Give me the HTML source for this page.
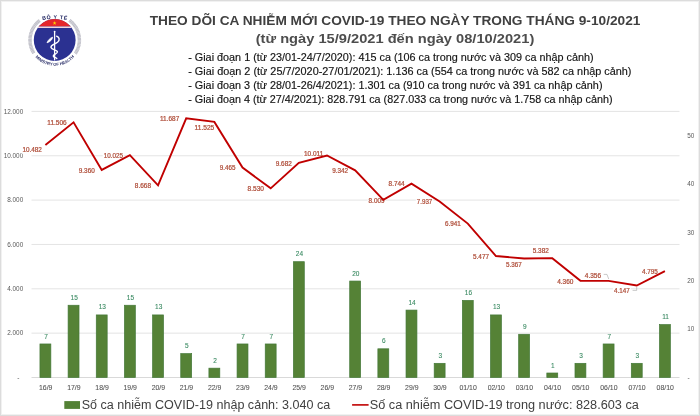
<!DOCTYPE html>
<html><head><meta charset="utf-8">
<style>
html,body{margin:0;padding:0;background:#fff;}
body{width:700px;height:416px;overflow:hidden;position:relative;}
svg{position:absolute;left:0;top:0;display:block;will-change:transform;}
text{font-family:"Liberation Sans",sans-serif;}
</style></head><body>
<svg width="700" height="416" viewBox="0 0 700 416">
<rect x="0" y="0" width="700" height="416" fill="#fff"/>

<rect x="0.5" y="0.5" width="699" height="415" fill="none" stroke="#dcdcdc" stroke-width="1"/>
<rect x="1.5" y="1.5" width="697" height="413" fill="none" stroke="#f1f1f1" stroke-width="1"/>
<line x1="31.5" y1="333.15" x2="679.5" y2="333.15" stroke="#e4e4e4" stroke-width="1"/>
<line x1="31.5" y1="288.80" x2="679.5" y2="288.80" stroke="#e4e4e4" stroke-width="1"/>
<line x1="31.5" y1="244.45" x2="679.5" y2="244.45" stroke="#e4e4e4" stroke-width="1"/>
<line x1="31.5" y1="200.10" x2="679.5" y2="200.10" stroke="#e4e4e4" stroke-width="1"/>
<line x1="31.5" y1="155.75" x2="679.5" y2="155.75" stroke="#e4e4e4" stroke-width="1"/>
<line x1="31.5" y1="111.40" x2="679.5" y2="111.40" stroke="#e4e4e4" stroke-width="1"/>
<line x1="31.5" y1="377.50" x2="679.5" y2="377.50" stroke="#d9d9d9" stroke-width="1"/>
<text x="19.5" y="379.50" font-size="6.5" fill="#595959" text-anchor="end">-</text>
<text x="23.2" y="335.45" font-size="6.4" fill="#595959" text-anchor="end">2.000</text>
<text x="23.2" y="291.10" font-size="6.4" fill="#595959" text-anchor="end">4.000</text>
<text x="23.2" y="246.75" font-size="6.4" fill="#595959" text-anchor="end">6.000</text>
<text x="23.2" y="202.40" font-size="6.4" fill="#595959" text-anchor="end">8.000</text>
<text x="23.2" y="158.05" font-size="6.4" fill="#595959" text-anchor="end">10.000</text>
<text x="23.2" y="113.70" font-size="6.4" fill="#595959" text-anchor="end">12.000</text>
<text x="687.5" y="379.50" font-size="6.5" fill="#595959">-</text>
<text x="687.3" y="331.40" font-size="6.4" fill="#595959">10</text>
<text x="687.3" y="283.00" font-size="6.4" fill="#595959">20</text>
<text x="687.3" y="234.60" font-size="6.4" fill="#595959">30</text>
<text x="687.3" y="186.20" font-size="6.4" fill="#595959">40</text>
<text x="687.3" y="137.80" font-size="6.4" fill="#595959">50</text>
<rect x="39.95" y="343.97" width="10.90" height="33.53" fill="#558236" stroke="#437838" stroke-width="0.7"/>
<text x="46.00" y="338.52" font-size="6.5" fill="#3a8a62" stroke="#3a8a62" stroke-width="0.1" text-anchor="middle">7</text>
<rect x="68.11" y="305.25" width="10.90" height="72.25" fill="#558236" stroke="#437838" stroke-width="0.7"/>
<text x="74.16" y="299.80" font-size="6.5" fill="#3a8a62" stroke="#3a8a62" stroke-width="0.1" text-anchor="middle">15</text>
<rect x="96.27" y="314.93" width="10.90" height="62.57" fill="#558236" stroke="#437838" stroke-width="0.7"/>
<text x="102.32" y="309.48" font-size="6.5" fill="#3a8a62" stroke="#3a8a62" stroke-width="0.1" text-anchor="middle">13</text>
<rect x="124.43" y="305.25" width="10.90" height="72.25" fill="#558236" stroke="#437838" stroke-width="0.7"/>
<text x="130.48" y="299.80" font-size="6.5" fill="#3a8a62" stroke="#3a8a62" stroke-width="0.1" text-anchor="middle">15</text>
<rect x="152.59" y="314.93" width="10.90" height="62.57" fill="#558236" stroke="#437838" stroke-width="0.7"/>
<text x="158.64" y="309.48" font-size="6.5" fill="#3a8a62" stroke="#3a8a62" stroke-width="0.1" text-anchor="middle">13</text>
<rect x="180.75" y="353.65" width="10.90" height="23.85" fill="#558236" stroke="#437838" stroke-width="0.7"/>
<text x="186.80" y="348.20" font-size="6.5" fill="#3a8a62" stroke="#3a8a62" stroke-width="0.1" text-anchor="middle">5</text>
<rect x="208.91" y="368.17" width="10.90" height="9.33" fill="#558236" stroke="#437838" stroke-width="0.7"/>
<text x="214.96" y="362.72" font-size="6.5" fill="#3a8a62" stroke="#3a8a62" stroke-width="0.1" text-anchor="middle">2</text>
<rect x="237.07" y="343.97" width="10.90" height="33.53" fill="#558236" stroke="#437838" stroke-width="0.7"/>
<text x="243.12" y="338.52" font-size="6.5" fill="#3a8a62" stroke="#3a8a62" stroke-width="0.1" text-anchor="middle">7</text>
<rect x="265.23" y="343.97" width="10.90" height="33.53" fill="#558236" stroke="#437838" stroke-width="0.7"/>
<text x="271.28" y="338.52" font-size="6.5" fill="#3a8a62" stroke="#3a8a62" stroke-width="0.1" text-anchor="middle">7</text>
<rect x="293.39" y="261.69" width="10.90" height="115.81" fill="#558236" stroke="#437838" stroke-width="0.7"/>
<text x="299.44" y="256.24" font-size="6.5" fill="#3a8a62" stroke="#3a8a62" stroke-width="0.1" text-anchor="middle">24</text>
<rect x="349.71" y="281.05" width="10.90" height="96.45" fill="#558236" stroke="#437838" stroke-width="0.7"/>
<text x="355.76" y="275.60" font-size="6.5" fill="#3a8a62" stroke="#3a8a62" stroke-width="0.1" text-anchor="middle">20</text>
<rect x="377.87" y="348.81" width="10.90" height="28.69" fill="#558236" stroke="#437838" stroke-width="0.7"/>
<text x="383.92" y="343.36" font-size="6.5" fill="#3a8a62" stroke="#3a8a62" stroke-width="0.1" text-anchor="middle">6</text>
<rect x="406.03" y="310.09" width="10.90" height="67.41" fill="#558236" stroke="#437838" stroke-width="0.7"/>
<text x="412.08" y="304.64" font-size="6.5" fill="#3a8a62" stroke="#3a8a62" stroke-width="0.1" text-anchor="middle">14</text>
<rect x="434.19" y="363.33" width="10.90" height="14.17" fill="#558236" stroke="#437838" stroke-width="0.7"/>
<text x="440.24" y="357.88" font-size="6.5" fill="#3a8a62" stroke="#3a8a62" stroke-width="0.1" text-anchor="middle">3</text>
<rect x="462.35" y="300.41" width="10.90" height="77.09" fill="#558236" stroke="#437838" stroke-width="0.7"/>
<text x="468.40" y="294.96" font-size="6.5" fill="#3a8a62" stroke="#3a8a62" stroke-width="0.1" text-anchor="middle">16</text>
<rect x="490.51" y="314.93" width="10.90" height="62.57" fill="#558236" stroke="#437838" stroke-width="0.7"/>
<text x="496.56" y="309.48" font-size="6.5" fill="#3a8a62" stroke="#3a8a62" stroke-width="0.1" text-anchor="middle">13</text>
<rect x="518.67" y="334.29" width="10.90" height="43.21" fill="#558236" stroke="#437838" stroke-width="0.7"/>
<text x="524.72" y="328.84" font-size="6.5" fill="#3a8a62" stroke="#3a8a62" stroke-width="0.1" text-anchor="middle">9</text>
<rect x="546.83" y="373.01" width="10.90" height="4.49" fill="#558236" stroke="#437838" stroke-width="0.7"/>
<text x="552.88" y="367.56" font-size="6.5" fill="#3a8a62" stroke="#3a8a62" stroke-width="0.1" text-anchor="middle">1</text>
<rect x="574.99" y="363.33" width="10.90" height="14.17" fill="#558236" stroke="#437838" stroke-width="0.7"/>
<text x="581.04" y="357.88" font-size="6.5" fill="#3a8a62" stroke="#3a8a62" stroke-width="0.1" text-anchor="middle">3</text>
<rect x="603.15" y="343.97" width="10.90" height="33.53" fill="#558236" stroke="#437838" stroke-width="0.7"/>
<text x="609.20" y="338.52" font-size="6.5" fill="#3a8a62" stroke="#3a8a62" stroke-width="0.1" text-anchor="middle">7</text>
<rect x="631.31" y="363.33" width="10.90" height="14.17" fill="#558236" stroke="#437838" stroke-width="0.7"/>
<text x="637.36" y="357.88" font-size="6.5" fill="#3a8a62" stroke="#3a8a62" stroke-width="0.1" text-anchor="middle">3</text>
<rect x="659.47" y="324.61" width="10.90" height="52.89" fill="#558236" stroke="#437838" stroke-width="0.7"/>
<text x="665.52" y="319.16" font-size="6.5" fill="#3a8a62" stroke="#3a8a62" stroke-width="0.1" text-anchor="middle">11</text>
<text x="45.70" y="389.90" font-size="6.9" fill="#555" stroke="#555" stroke-width="0.08" text-anchor="middle">16/9</text>
<text x="73.86" y="389.90" font-size="6.9" fill="#555" stroke="#555" stroke-width="0.08" text-anchor="middle">17/9</text>
<text x="102.02" y="389.90" font-size="6.9" fill="#555" stroke="#555" stroke-width="0.08" text-anchor="middle">18/9</text>
<text x="130.18" y="389.90" font-size="6.9" fill="#555" stroke="#555" stroke-width="0.08" text-anchor="middle">19/9</text>
<text x="158.34" y="389.90" font-size="6.9" fill="#555" stroke="#555" stroke-width="0.08" text-anchor="middle">20/9</text>
<text x="186.50" y="389.90" font-size="6.9" fill="#555" stroke="#555" stroke-width="0.08" text-anchor="middle">21/9</text>
<text x="214.66" y="389.90" font-size="6.9" fill="#555" stroke="#555" stroke-width="0.08" text-anchor="middle">22/9</text>
<text x="242.82" y="389.90" font-size="6.9" fill="#555" stroke="#555" stroke-width="0.08" text-anchor="middle">23/9</text>
<text x="270.98" y="389.90" font-size="6.9" fill="#555" stroke="#555" stroke-width="0.08" text-anchor="middle">24/9</text>
<text x="299.14" y="389.90" font-size="6.9" fill="#555" stroke="#555" stroke-width="0.08" text-anchor="middle">25/9</text>
<text x="327.30" y="389.90" font-size="6.9" fill="#555" stroke="#555" stroke-width="0.08" text-anchor="middle">26/9</text>
<text x="355.46" y="389.90" font-size="6.9" fill="#555" stroke="#555" stroke-width="0.08" text-anchor="middle">27/9</text>
<text x="383.62" y="389.90" font-size="6.9" fill="#555" stroke="#555" stroke-width="0.08" text-anchor="middle">28/9</text>
<text x="411.78" y="389.90" font-size="6.9" fill="#555" stroke="#555" stroke-width="0.08" text-anchor="middle">29/9</text>
<text x="439.94" y="389.90" font-size="6.9" fill="#555" stroke="#555" stroke-width="0.08" text-anchor="middle">30/9</text>
<text x="468.10" y="389.90" font-size="6.9" fill="#555" stroke="#555" stroke-width="0.08" text-anchor="middle">01/10</text>
<text x="496.26" y="389.90" font-size="6.9" fill="#555" stroke="#555" stroke-width="0.08" text-anchor="middle">02/10</text>
<text x="524.42" y="389.90" font-size="6.9" fill="#555" stroke="#555" stroke-width="0.08" text-anchor="middle">03/10</text>
<text x="552.58" y="389.90" font-size="6.9" fill="#555" stroke="#555" stroke-width="0.08" text-anchor="middle">04/10</text>
<text x="580.74" y="389.90" font-size="6.9" fill="#555" stroke="#555" stroke-width="0.08" text-anchor="middle">05/10</text>
<text x="608.90" y="389.90" font-size="6.9" fill="#555" stroke="#555" stroke-width="0.08" text-anchor="middle">06/10</text>
<text x="637.06" y="389.90" font-size="6.9" fill="#555" stroke="#555" stroke-width="0.08" text-anchor="middle">07/10</text>
<text x="665.22" y="389.90" font-size="6.9" fill="#555" stroke="#555" stroke-width="0.08" text-anchor="middle">08/10</text>
<rect x="21.40" y="146.50" width="21.40" height="7.2" fill="#fff"/>
<text x="22.40" y="152.30" font-size="6.5" fill="#b04f3b" stroke="#b04f3b" stroke-width="0.24" textLength="19.40" lengthAdjust="spacingAndGlyphs">10.482</text>
<rect x="46.30" y="119.10" width="21.40" height="7.2" fill="#fff"/>
<text x="47.30" y="124.90" font-size="6.5" fill="#b04f3b" stroke="#b04f3b" stroke-width="0.24" textLength="19.40" lengthAdjust="spacingAndGlyphs">11.506</text>
<rect x="77.80" y="166.70" width="18.00" height="7.2" fill="#fff"/>
<text x="78.80" y="172.50" font-size="6.5" fill="#b04f3b" stroke="#b04f3b" stroke-width="0.24" textLength="16.00" lengthAdjust="spacingAndGlyphs">9.360</text>
<rect x="102.70" y="151.90" width="21.20" height="7.2" fill="#fff"/>
<text x="103.70" y="157.70" font-size="6.5" fill="#b04f3b" stroke="#b04f3b" stroke-width="0.24" textLength="19.20" lengthAdjust="spacingAndGlyphs">10.025</text>
<rect x="133.80" y="182.10" width="18.20" height="7.2" fill="#fff"/>
<text x="134.80" y="187.90" font-size="6.5" fill="#b04f3b" stroke="#b04f3b" stroke-width="0.24" textLength="16.20" lengthAdjust="spacingAndGlyphs">8.668</text>
<rect x="159.00" y="114.90" width="21.30" height="7.2" fill="#fff"/>
<text x="160.00" y="120.70" font-size="6.5" fill="#b04f3b" stroke="#b04f3b" stroke-width="0.24" textLength="19.30" lengthAdjust="spacingAndGlyphs">11.687</text>
<rect x="193.60" y="124.10" width="21.70" height="7.2" fill="#fff"/>
<text x="194.60" y="129.90" font-size="6.5" fill="#b04f3b" stroke="#b04f3b" stroke-width="0.24" textLength="19.70" lengthAdjust="spacingAndGlyphs">11.525</text>
<rect x="218.70" y="164.50" width="17.70" height="7.2" fill="#fff"/>
<text x="219.70" y="170.30" font-size="6.5" fill="#b04f3b" stroke="#b04f3b" stroke-width="0.24" textLength="15.70" lengthAdjust="spacingAndGlyphs">9.465</text>
<rect x="246.60" y="185.40" width="18.40" height="7.2" fill="#fff"/>
<text x="247.60" y="191.20" font-size="6.5" fill="#b04f3b" stroke="#b04f3b" stroke-width="0.24" textLength="16.40" lengthAdjust="spacingAndGlyphs">8.530</text>
<rect x="274.80" y="160.00" width="18.00" height="7.2" fill="#fff"/>
<text x="275.80" y="165.80" font-size="6.5" fill="#b04f3b" stroke="#b04f3b" stroke-width="0.24" textLength="16.00" lengthAdjust="spacingAndGlyphs">9.682</text>
<rect x="303.00" y="149.90" width="21.30" height="7.2" fill="#fff"/>
<text x="304.00" y="155.70" font-size="6.5" fill="#b04f3b" stroke="#b04f3b" stroke-width="0.24" textLength="19.30" lengthAdjust="spacingAndGlyphs">10.011</text>
<rect x="331.20" y="167.20" width="18.00" height="7.2" fill="#fff"/>
<text x="332.20" y="173.00" font-size="6.5" fill="#b04f3b" stroke="#b04f3b" stroke-width="0.24" textLength="16.00" lengthAdjust="spacingAndGlyphs">9.342</text>
<rect x="367.60" y="196.70" width="17.90" height="7.2" fill="#fff"/>
<text x="368.60" y="202.50" font-size="6.5" fill="#b04f3b" stroke="#b04f3b" stroke-width="0.24" textLength="15.90" lengthAdjust="spacingAndGlyphs">8.009</text>
<rect x="387.60" y="180.30" width="18.00" height="7.2" fill="#fff"/>
<text x="388.60" y="186.10" font-size="6.5" fill="#b04f3b" stroke="#b04f3b" stroke-width="0.24" textLength="16.00" lengthAdjust="spacingAndGlyphs">8.744</text>
<rect x="415.80" y="197.90" width="17.50" height="7.2" fill="#fff"/>
<text x="416.80" y="203.70" font-size="6.5" fill="#b04f3b" stroke="#b04f3b" stroke-width="0.24" textLength="15.50" lengthAdjust="spacingAndGlyphs">7.937</text>
<rect x="443.90" y="220.50" width="17.80" height="7.2" fill="#fff"/>
<text x="444.90" y="226.30" font-size="6.5" fill="#b04f3b" stroke="#b04f3b" stroke-width="0.24" textLength="15.80" lengthAdjust="spacingAndGlyphs">6.941</text>
<rect x="472.00" y="253.00" width="18.00" height="7.2" fill="#fff"/>
<text x="473.00" y="258.80" font-size="6.5" fill="#b04f3b" stroke="#b04f3b" stroke-width="0.24" textLength="16.00" lengthAdjust="spacingAndGlyphs">5.477</text>
<rect x="504.90" y="261.40" width="17.80" height="7.2" fill="#fff"/>
<text x="505.90" y="267.20" font-size="6.5" fill="#b04f3b" stroke="#b04f3b" stroke-width="0.24" textLength="15.80" lengthAdjust="spacingAndGlyphs">5.367</text>
<rect x="531.80" y="246.90" width="18.00" height="7.2" fill="#fff"/>
<text x="532.80" y="252.70" font-size="6.5" fill="#b04f3b" stroke="#b04f3b" stroke-width="0.24" textLength="16.00" lengthAdjust="spacingAndGlyphs">5.382</text>
<rect x="556.20" y="277.70" width="18.30" height="7.2" fill="#fff"/>
<text x="557.20" y="283.50" font-size="6.5" fill="#b04f3b" stroke="#b04f3b" stroke-width="0.24" textLength="16.30" lengthAdjust="spacingAndGlyphs">4.360</text>
<rect x="583.80" y="271.70" width="18.30" height="7.2" fill="#fff"/>
<text x="584.80" y="277.50" font-size="6.5" fill="#b04f3b" stroke="#b04f3b" stroke-width="0.24" textLength="16.30" lengthAdjust="spacingAndGlyphs">4.356</text>
<rect x="613.10" y="287.60" width="17.70" height="7.2" fill="#fff"/>
<text x="614.10" y="293.40" font-size="6.5" fill="#b04f3b" stroke="#b04f3b" stroke-width="0.24" textLength="15.70" lengthAdjust="spacingAndGlyphs">4.147</text>
<rect x="641.00" y="267.90" width="17.90" height="7.2" fill="#fff"/>
<text x="642.00" y="273.70" font-size="6.5" fill="#b04f3b" stroke="#b04f3b" stroke-width="0.24" textLength="15.90" lengthAdjust="spacingAndGlyphs">4.795</text>
<polyline points="45.40,145.06 73.56,122.35 101.72,169.94 129.88,155.20 158.04,185.29 186.20,118.34 214.36,121.93 242.52,167.61 270.68,188.35 298.84,162.80 327.00,155.51 355.16,170.34 383.32,199.90 411.48,183.60 439.64,201.50 467.80,223.58 495.96,256.05 524.12,258.49 552.28,258.15 580.44,280.82 608.60,280.91 636.76,285.54 664.92,271.17" fill="none" stroke="#c00000" stroke-width="1.9" stroke-linejoin="miter"/>
<polyline points="603.7,274.4 607,274.4 608.7,279" fill="none" stroke="#a6a6a6" stroke-width="0.6"/>
<polyline points="632.6,290.4 636.7,290.4 636.7,287" fill="none" stroke="#a6a6a6" stroke-width="0.6"/>
<text x="149.7" y="24.65" font-size="13.5" font-weight="bold" fill="#404040" textLength="490.7" lengthAdjust="spacingAndGlyphs">THEO DÕI CA NHIỄM MỚI COVID-19 THEO NGÀY TRONG THÁNG 9-10/2021</text>
<text x="255.7" y="43.4" font-size="12.7" font-weight="bold" fill="#4d4d4d" textLength="278.6" lengthAdjust="spacingAndGlyphs">(từ ngày 15/9/2021 đến ngày 08/10/2021)</text>
<text x="188.2" y="61.15" font-size="10.1" fill="#151515" stroke="#151515" stroke-width="0.15" textLength="405.40" lengthAdjust="spacingAndGlyphs">- Giai đoạn 1 (từ 23/01-24/7/2020): 415 ca (106 ca trong nước và 309 ca nhập cảnh)</text>
<text x="188.2" y="75.18" font-size="10.1" fill="#151515" stroke="#151515" stroke-width="0.15" textLength="443.30" lengthAdjust="spacingAndGlyphs">- Giai đoạn 2 (từ 25/7/2020-27/01/2021): 1.136 ca (554 ca trong nước và 582 ca nhập cảnh)</text>
<text x="188.2" y="89.21" font-size="10.1" fill="#151515" stroke="#151515" stroke-width="0.15" textLength="414.30" lengthAdjust="spacingAndGlyphs">- Giai đoạn 3 (từ 28/01-26/4/2021): 1.301 ca (910 ca trong nước và 391 ca nhập cảnh)</text>
<text x="188.2" y="103.24" font-size="10.1" fill="#151515" stroke="#151515" stroke-width="0.15" textLength="424.30" lengthAdjust="spacingAndGlyphs">- Giai đoạn 4 (từ 27/4/2021): 828.791 ca (827.033 ca trong nước và 1.758 ca nhập cảnh)</text>
<rect x="64.3" y="401.1" width="15.7" height="7.8" fill="#538135"/>
<text x="81.7" y="408.9" font-size="12.5" fill="#404040" textLength="248.6" lengthAdjust="spacingAndGlyphs">Số ca nhiễm COVID-19 nhập cảnh: 3.040 ca</text>
<line x1="352.1" y1="404.9" x2="368.6" y2="404.9" stroke="#c00000" stroke-width="1.6"/>
<text x="369.7" y="408.7" font-size="12.5" fill="#404040" textLength="269.2" lengthAdjust="spacingAndGlyphs">Số ca nhiễm COVID-19 trong nước: 828.603 ca</text>
<g id="logo">
<path d="M33.75,53.09 A24.7,24.7 0 0 1 39.84,20.27" fill="none" stroke="#dadae0" stroke-width="3.4"/>
<path d="M33.75,53.09 A24.7,24.7 0 0 1 39.84,20.27" fill="none" stroke="#b0b0ba" stroke-width="3.4" stroke-dasharray="0.5 0.8"/>
<path d="M69.56,20.27 A24.7,24.7 0 0 1 75.42,53.45" fill="none" stroke="#dadae0" stroke-width="3.4"/>
<path d="M69.56,20.27 A24.7,24.7 0 0 1 75.42,53.45" fill="none" stroke="#b0b0ba" stroke-width="3.4" stroke-dasharray="0.5 0.8"/>
<circle cx="54.7" cy="40.0" r="20.9" fill="#2b3191"/>
<path d="M38.66,26.6 A20.9,20.9 0 0 1 70.74,26.6 Z" fill="#e5262b"/>
<path d="M38.66,26.6 L70.74,26.6 L71.74,27.900000000000002 L37.66,27.900000000000002 Z" fill="#f3d6dc"/>
<polygon points="54.60,21.00 55.10,22.41 56.60,22.45 55.41,23.36 55.83,24.80 54.60,23.95 53.37,24.80 53.79,23.36 52.60,22.45 54.10,22.41" fill="#ffd200"/>
<line x1="54.6" y1="31.5" x2="54.6" y2="60.5" stroke="#fff" stroke-width="1.3"/>
<circle cx="54.6" cy="31.6" r="0.9" fill="#fff"/>
<path d="M56.6,36.2 C59.5,37.5 60.2,40 57.5,42.2 C54.5,44.5 50.2,45 51,47.5 C51.8,50 57.6,49.8 57.4,52 C57.2,54 53,54.3 53.3,56 C53.6,57.5 56,57.6 56.8,58.4" fill="none" stroke="#fff" stroke-width="1.4" stroke-linecap="round"/>
<path d="M47.0,42.8 C48.2,40.0 49.8,38.2 52.6,37.2 C52.2,39.8 50.4,41.6 47.0,42.8 Z" fill="#fff" stroke="#fff" stroke-width="0.8" stroke-linejoin="round"/>
<path id="toparc" d="M38,21.2 A60,60 0 0 1 71.4,21.2" fill="none"/>
<text font-size="5.2" font-weight="bold" fill="#1f2460" font-family="Liberation Serif"><textPath href="#toparc" startOffset="50%" text-anchor="middle" textLength="24.5">BỘ Y TẾ</textPath></text>
<path id="botarc" d="M29.78,46.68 A25.8,25.8 0 0 0 79.62,46.68" fill="none"/>
<text font-size="4.1" font-weight="bold" fill="#1f2460" font-family="Liberation Serif"><textPath href="#botarc" startOffset="50%" text-anchor="middle" textLength="44">MINISTRY OF HEALTH</textPath></text>
</g>
</svg></body></html>
